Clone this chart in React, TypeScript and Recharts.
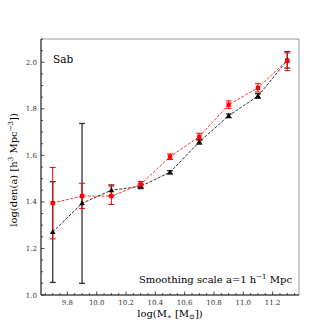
import { ComposedChart, Line, XAxis, YAxis, ErrorBar, ReferenceArea } from "recharts";

// stellar mass bins
const massBins = [9.7, 9.9, 10.1, 10.3, 10.5, 10.7, 10.9, 11.1, 11.3];

// black series (triangles)
const blackVals = [1.271, 1.394, 1.45, 1.467, 1.527, 1.658, 1.77, 1.855, 2.008];
const blackLow = [1.054, 1.05, 1.427, 1.457, 1.52, 1.648, 1.762, 1.845, 1.975];
const blackHigh = [1.487, 1.737, 1.473, 1.477, 1.534, 1.668, 1.778, 1.865, 2.046];

// red series (squares)
const redVals = [1.395, 1.425, 1.425, 1.475, 1.594, 1.68, 1.818, 1.89, 2.008];
const redLow = [1.241, 1.372, 1.389, 1.462, 1.582, 1.665, 1.802, 1.872, 1.964];
const redHigh = [1.548, 1.48, 1.468, 1.488, 1.606, 1.695, 1.834, 1.908, 2.04];

const xMajor = [9.8, 10.0, 10.2, 10.4, 10.6, 10.8, 11.0, 11.2];
const yMajor = [1.0, 1.2, 1.4, 1.6, 1.8, 2.0];
const xDomain = [9.62, 11.38];
const yDomain = [1.0, 2.1];

// minor ticks every 0.05
const xMinor: number[] = [];
for (let i = 193; i <= 227; i++) xMinor.push(i / 20);
const yMinor: number[] = [];
for (let i = 20; i <= 42; i++) yMinor.push(i / 20);

const isMajor = (v: number, list: number[]) => list.some(m => Math.abs(m - v) < 1e-6);

const data = massBins.map((x, i) => ({
  x,
  black: blackVals[i],
  blackErr: [blackVals[i] - blackLow[i], blackHigh[i] - blackVals[i]],
  red: redVals[i],
  redErr: [redVals[i] - redLow[i], redHigh[i] - redVals[i]],
}));

const SERIF = "'DejaVu Serif', serif";

function XTick(props: any) {
  const { x, y, payload } = props;
  const major = isMajor(payload.value, xMajor);
  return (
    <g>
      <line x1={x} x2={x} y1={y} y2={y - (major ? 3.5 : 2)} stroke="#222" strokeWidth={0.8} />
      {major && (
        <text x={x} y={y + 10} textAnchor="middle" fontSize={7} fontFamily={SERIF} fill="#333">
          {payload.value.toFixed(1)}
        </text>
      )}
    </g>
  );
}

function YTick(props: any) {
  const { x, y, payload } = props;
  const major = isMajor(payload.value, yMajor);
  return (
    <g>
      <line x1={x} x2={x + (major ? 3.5 : 2)} y1={y} y2={y} stroke="#222" strokeWidth={0.8} />
      {major && (
        <text x={x - 4} y={y + 2.5} textAnchor="end" fontSize={7} fontFamily={SERIF} fill="#333">
          {payload.value.toFixed(1)}
        </text>
      )}
    </g>
  );
}

function Tri(props: any) {
  const { cx, cy, index } = props;
  if (cx == null || cy == null) return <g key={index} />;
  return <polygon key={index} points={`${cx},${cy - 3} ${cx - 2.8},${cy + 2} ${cx + 2.8},${cy + 2}`} fill="#000" />;
}

function Sq(props: any) {
  const { cx, cy, index } = props;
  if (cx == null || cy == null) return <g key={index} />;
  return <rect key={index} x={cx - 2.2} y={cy - 2.2} width={4.4} height={4.4} fill="#ff0000" />;
}

export default function App() {
  return (
    <div style={{ position: "absolute", left: 0, top: 0, width: 332, height: 332, background: "#fff" }}>
      <ComposedChart width={332} height={332} data={data} margin={{ top: 39, right: 33, left: 0, bottom: 0 }}>
        <ReferenceArea x1={xDomain[0]} x2={xDomain[1]} y1={yDomain[0]} y2={yDomain[1]} fill="none" stroke="#999" strokeWidth={1} ifOverflow="visible" />
        <XAxis
          type="number"
          dataKey="x"
          domain={xDomain}
          allowDataOverflow
          ticks={xMinor}
          interval={0}
          tick={<XTick />}
          tickLine={false}
          tickSize={0}
          tickMargin={0}
          height={37}
          axisLine={{ stroke: "#222", strokeWidth: 1 }}
        />
        <YAxis
          type="number"
          domain={yDomain}
          allowDataOverflow
          ticks={yMinor}
          interval={0}
          tick={<YTick />}
          tickLine={false}
          tickSize={0}
          tickMargin={0}
          width={41}
          axisLine={{ stroke: "#222", strokeWidth: 1 }}
        />
        <Line dataKey="black" stroke="#000" strokeWidth={0.8} strokeDasharray="3 1.5" dot={<Tri />} activeDot={false} isAnimationActive={false}>
          <ErrorBar dataKey="blackErr" direction="y" width={3} stroke="#333" strokeWidth={1.3} isAnimationActive={false} />
        </Line>
        <Line dataKey="red" stroke="#ff0000" strokeWidth={0.8} strokeDasharray="3 1.5" dot={<Sq />} activeDot={false} isAnimationActive={false}>
          <ErrorBar dataKey="redErr" direction="y" width={3} stroke="#ff0000" strokeWidth={1} isAnimationActive={false} />
        </Line>
        <text x={53} y={63} fontSize={10.5} fontFamily={SERIF} fill="#000">Sab</text>
        <text x={292} y={283} textAnchor="end" fontSize={10} fontFamily={SERIF} fill="#000">
          Smoothing scale a=1 h<tspan fontSize={7} dy={-4}>−1</tspan><tspan dy={4}> Mpc</tspan>
        </text>
        <text x={170} y={317} textAnchor="middle" fontSize={10} fontFamily={SERIF} fill="#000">
          log(M<tspan fontSize={7} dy={2}>∗</tspan><tspan dy={-2}> [M</tspan><tspan fontSize={7} dy={2}>⊙</tspan><tspan dy={-2}>])</tspan>
        </text>
        <text x={17} y={170} transform="rotate(-90 17 170)" textAnchor="middle" fontSize={10} fontFamily={SERIF} fill="#000">
          log(den(a) [h<tspan fontSize={7} dy={-4}>3</tspan><tspan dy={4}> Mpc</tspan><tspan fontSize={7} dy={-4}>−3</tspan><tspan dy={4}>])</tspan>
        </text>
      </ComposedChart>
    </div>
  );
}
